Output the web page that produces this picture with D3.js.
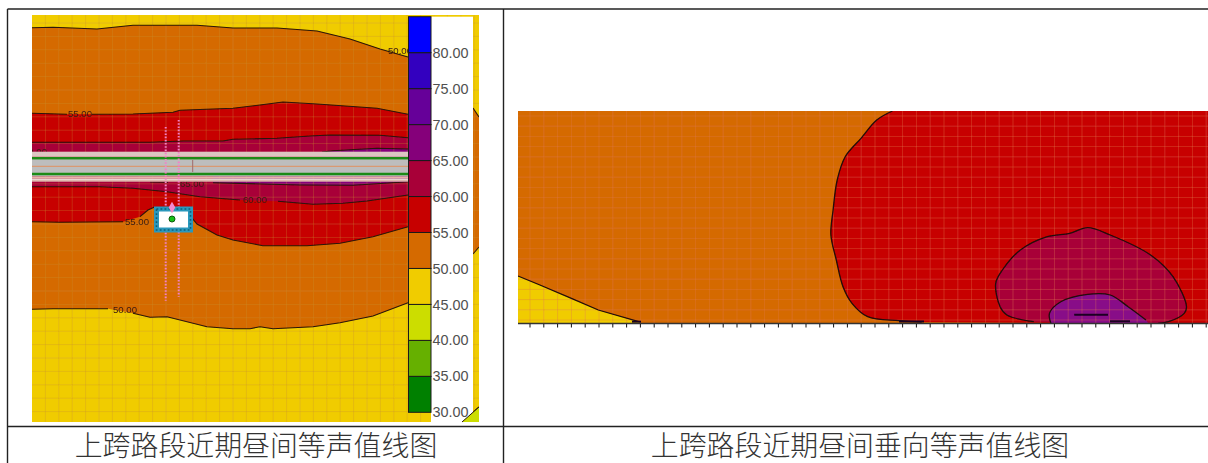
<!DOCTYPE html>
<html><head><meta charset="utf-8">
<style>html,body{margin:0;padding:0;background:#fff;overflow:hidden}svg{display:block}</style>
<script src="https://cdn.jsdelivr.net/npm/d3@7/dist/d3.min.js"></script>
</head><body><svg id="c" width="1208" height="463"></svg>
<script>
// ---- data ----
const levelTicks = [30,35,40,45,50,55,60,65,70,75,80];
const levelEdges = [30,35,40,45,50,55,60,65,70,75,80,85];
const levelColors = ["#008000","#66b000","#ccdd00","#f0cc00","#d56a00","#c70000","#a80038","#85007a","#660099","#3300bf","#0000ff"];
const captions = ["上跨路段近期昼间等声值线图","上跨路段近期昼间垂向等声值线图"];

// plan-view contours (map units)
const top50 = [[0,12.7],[21,12.3],[65,14],[101,10.3],[165,10.3],[201,13],[245,13],[285,16],[318,24],[348,34],[376,42]];
const up55a = [[0,98.3],[35,99.3]];
const up55b = [[60,99.2],[101,99],[141,97.3],[148,95.3],[201,93.3],[228,90],[251,87],[285,89],[345,93.3],[376,99.3]];
const up60 = [[0,127.3],[118,127.3],[151,126],[191,126],[201,124.3],[245,123.3],[278,121],[298,120],[348,120.3],[376,122.7]];
const up65 = [[290,137],[301,135.7],[345,133.3],[376,134]];
const lo65a = [[118,167],[136,167.2]];
const lo65b = [[181,167.7],[268,170],[321,170.3],[376,166.7]];
const lo60a = [[0,171.7],[68,171.7],[101,173.3],[135,176.7],[168,181.7],[208,185]];
const lo60b = [[246,186.3],[281,189.3],[311,188.3],[335,186],[376,180]];
const lo55a = [[0,206.7],[28,207.3],[91,206.7]];
const lo55b = [[108,201.7],[116,195],[122,192.3],[159,201.7],[165,209],[185,220],[201,225],[231,230.7],[275,230.7],[308,228.3],[341,221.7],[376,211.7]];
const lo50a = [[0,294.3],[21,293.7],[76,293.7]];
const lo50b = [[101,298.3],[118,302.3],[135,301.7],[175,311.7],[201,313.7],[218,313.7],[228,311.7],[241,313.7],[281,311.7],[308,307.7],[341,301],[376,287.7]];
const stripOrange = [[441,93],[447,102],[447,232],[441,239]];
const cornerLime = [[430,407],[447,392],[447,407]];
const mapLabels = [["55.00",36,102],["60.00",-9,140],["65.00",148,172],["60.00",211,188],["55.00",93,210],["50.00",81,298],["50.00",356,39]];
const roadBands = [[136.7,141.7,"#dcc6c2"],[141.7,143,"#e6b4a6"],[143,144.5,"#e8d6d0"],[161.5,163.5,"#e6b4a6"],[163.5,165,"#e8d6d0"],[165,166.7,"#dfb8ae"]];
const roadGreens = [143.3,159];
const roadCentre = 151.3;
const traceA = [[133.7,112],[133.7,285.7]];
const traceB = [[146.7,105],[146.7,281.7]];

// vertical-section contours (section units)
const secYellow = [[0,165],[21.9,174],[53.4,187.3],[80.3,199],[120.7,210.7],[122,213],[0,213]];
const secRed = [[374.4,0],[358.7,9],[343,27.3],[327.2,45.7],[319.2,69],[315.1,99],[312.9,124],[318.3,149],[325,175.7],[334,192.3],[349.7,205.7],[381,209.7],[403.6,211]];
const secCrimson = [[515.8,210.7],[488.9,204],[482.1,195.7],[477.7,172.3],[484.4,159],[502.4,139],[529.3,125.7],[551.7,122.3],[569.7,116.7],[592.2,124],[632.6,144],[655,165.7],[668.5,195.7],[666.2,202.3],[650.5,210.7],[640,212.5]];
const secPurple = [[532.9,212.5],[531.5,202.3],[542.8,190.7],[569.7,183.3],[592.2,184],[610.1,195.7],[628,209],[630.3,212.5]];
const secDashes = [[[556.2,203.7],[590,203.7]],[[592,210.3],[612,210.3]],[[381,210.5],[406,210.5]],[[114,210.7],[123,210.7]]];

// ---- scales ----
const svg = d3.select("#c");
const mx = d3.scaleLinear([0,447],[32,479]);
const my = d3.scaleLinear([0,407],[15,422]);
const sx = d3.scaleLinear([0,690],[518,1208]);
const sy = d3.scaleLinear([0,213],[111,324]);
const ly = d3.scaleLinear([30,85],[412.3,16.7]);
const col = d3.scaleThreshold().domain(levelEdges.slice(1,-1)).range(levelColors);
const mLine = d3.line(d=>mx(d[0]),d=>my(d[1]));
const sLine = d3.line(d=>sx(d[0]),d=>sy(d[1]));
const sCurve = d3.line(d=>sx(d[0]),d=>sy(d[1])).curve(d3.curveCatmullRom);
const ink = "#2a1408";
const defs = svg.append("defs");
defs.append("filter").attr("id","soft").append("feGaussianBlur").attr("stdDeviation",0.45);
defs.append("clipPath").attr("id","mapClip").append("rect").attr("x",32).attr("y",15).attr("width",447).attr("height",407);
defs.append("clipPath").attr("id","secClip").append("rect").attr("x",518).attr("y",111).attr("width",690).attr("height",213);

// ---- plan view ----
const m = svg.append("g").attr("clip-path","url(#mapClip)").append("g").attr("filter","url(#soft)");
m.append("rect").attr("x",mx(0)).attr("y",my(0)).attr("width",mx(447)-mx(0)).attr("height",my(407)-my(0)).attr("fill",col(47));
const E = 376, rev = a => a.slice().reverse();
const fillM = (pts,v)=>m.append("path").attr("d",mLine(pts)+"Z").attr("fill",col(v));
fillM([...top50,...rev([...lo50a,...lo50b])],52);
fillM([...up55a,...up55b,...rev([...lo55a,...lo55b])],57);
fillM([...up60,...rev([...lo60a,...lo60b])],62);
fillM([...up65,[E,145],[290,145]],67);
fillM([...lo65b,[E,150],[181,150]],67);
fillM(stripOrange,52);
fillM(cornerLime,42);
// faint survey grid
const gridX = d3.range(13.4,447,13.4), gridY = d3.range(8,407,13.4);
m.append("g").selectAll("line").data(gridX).join("line").attr("x1",mx).attr("x2",mx).attr("y1",my(0)).attr("y2",my(407)).attr("stroke","#c89030").attr("opacity",.3);
m.append("g").selectAll("line").data(gridY).join("line").attr("y1",my).attr("y2",my).attr("x1",mx(0)).attr("x2",mx(447)).attr("stroke","#c89030").attr("opacity",.3);
// contours
m.append("g").selectAll("path").data([top50,up55a,up55b,up60,up65,lo65a,lo65b,lo60a,lo60b,lo55a,lo55b,lo50a,lo50b,stripOrange.slice(0,2),stripOrange.slice(2),cornerLime.slice(0,2)])
 .join("path").attr("d",mLine).attr("fill","none").attr("stroke",ink).attr("stroke-width",1.1);
m.append("g").selectAll("text").data(mapLabels).join("text")
 .attr("x",d=>mx(d[1])).attr("y",d=>my(d[2])).text(d=>d[0])
 .attr("font-family","Liberation Sans").attr("font-size",9.6).attr("fill","#3a1a10");
// road
m.append("rect").attr("x",mx(0)).attr("width",mx(E)-mx(0)).attr("y",my(141.7)).attr("height",my(161.5)-my(141.7)).attr("fill","#bdbdbd");
m.append("g").selectAll("rect").data(roadBands).join("rect").attr("x",mx(0)).attr("width",mx(E)-mx(0))
 .attr("y",d=>my(d[0])).attr("height",d=>my(d[1])-my(d[0])).attr("fill",d=>d[2]);
m.append("g").selectAll("line").data(roadGreens).join("line").attr("x1",mx(0)).attr("x2",mx(E)).attr("y1",my).attr("y2",my).attr("stroke","#1f8a18").attr("stroke-width",2.6);
m.append("line").attr("x1",mx(0)).attr("x2",mx(E)).attr("y1",my(roadCentre)).attr("y2",my(roadCentre)).attr("stroke","#e09060").attr("stroke-width",1);
m.append("line").attr("x1",mx(160.7)).attr("x2",mx(160.7)).attr("y1",my(145)).attr("y2",my(157)).attr("stroke","#a06a6a").attr("stroke-width",1);
// receiver traces
m.append("g").selectAll("path").data([traceA,traceB]).join("path").attr("d",mLine).attr("fill","none")
 .attr("stroke","#f47fc8").attr("stroke-width",2).attr("stroke-dasharray","1.6 1.6");
// building
m.append("rect").attr("x",mx(124.5)).attr("y",my(194)).attr("width",34).attr("height",21).attr("fill","#fff").attr("stroke","#2a98bc").attr("stroke-width",5);
m.append("rect").attr("x",mx(124.5)).attr("y",my(194)).attr("width",34).attr("height",21).attr("fill","none").attr("stroke","#0c5f78").attr("stroke-width",1.6).attr("stroke-dasharray","1.8 2.2");
m.append("path").attr("d",d3.symbol(d3.symbolDiamond,38)()).attr("transform",`translate(${mx(140)},${my(192.5)})`).attr("fill","#f48ad0");
m.append("circle").attr("cx",mx(140)).attr("cy",my(204)).attr("r",3).attr("fill","#18c018").attr("stroke","#0a5a0a");
// key panel
const panel = svg.append("g");
panel.append("rect").attr("x",431).attr("y",ly(85)).attr("width",42).attr("height",422-ly(85)).attr("fill","#fff");
svg.append("path").attr("d",mLine(cornerLime)+"Z").attr("fill",col(42));
svg.append("path").attr("d",mLine(cornerLime.slice(0,2))).attr("stroke",ink).attr("fill","none");
const cells = d3.range(levelColors.length);
panel.append("g").selectAll("rect").data(cells).join("rect")
 .attr("x",408.5).attr("width",22.5)
 .attr("y",i=>ly(levelEdges[i+1])).attr("height",i=>ly(levelEdges[i])-ly(levelEdges[i+1]))
 .attr("fill",i=>levelColors[i]).attr("stroke","#1a1a1a").attr("stroke-width",1);
const keyAxis = d3.axisRight(ly).tickValues(levelTicks).tickSize(0).tickPadding(1.5).tickFormat(d3.format(".2f"));
const ka = svg.append("g").attr("transform","translate(431,0)").call(keyAxis);
ka.select(".domain").remove();
ka.selectAll("text").attr("font-family","Liberation Sans").attr("font-size",14.4).attr("fill","#505050");

// ---- vertical section ----
const s = svg.append("g").attr("clip-path","url(#secClip)").append("g").attr("filter","url(#soft)");
s.append("rect").attr("x",sx(0)).attr("y",sy(0)).attr("width",690).attr("height",213).attr("fill",col(52));
s.append("path").attr("d",sLine(secYellow)+"Z").attr("fill",col(47));
s.append("path").attr("d",sCurve(secRed)+"L"+sx(690)+","+sy(213)+"L"+sx(690)+","+sy(0)+"Z").attr("fill",col(57));
s.append("path").attr("d",sCurve(secCrimson)+"Z").attr("fill",col(62));
s.append("path").attr("d",sCurve(secPurple)+"Z").attr("fill","#880a88");
const sGX = d3.range(12,690,13.8), sGY = d3.range(5,213,10.2);
s.append("g").selectAll("line").data(sGX).join("line").attr("x1",sx).attr("x2",sx).attr("y1",sy(0)).attr("y2",sy(213)).attr("stroke","#e07850").attr("opacity",.35);
s.append("g").selectAll("line").data(sGY).join("line").attr("y1",sy).attr("y2",sy).attr("x1",sx(0)).attr("x2",sx(690)).attr("stroke","#e07850").attr("opacity",.35);
s.append("path").attr("d",sLine(secYellow.slice(0,5))).attr("fill","none").attr("stroke","#200a08").attr("stroke-width",1.3);
s.append("g").selectAll("path").data([secRed,secCrimson,secPurple.slice(0,-1)]).join("path")
 .attr("d",sCurve).attr("fill","none").attr("stroke","#200a08").attr("stroke-width",1.3);
s.append("g").selectAll("path").data(secDashes).join("path").attr("d",sLine).attr("stroke","#1a0620").attr("stroke-width",2).attr("fill","none");
// ground line and ticks
svg.append("line").attr("x1",sx(0)).attr("x2",sx(690)).attr("y1",sy(212.5)).attr("y2",sy(212.5)).attr("stroke","#333").attr("stroke-width",1.6);
svg.append("g").selectAll("line").data(sGX).join("line").attr("x1",sx).attr("x2",sx).attr("y1",sy(213)).attr("y2",sy(213)+3.5).attr("stroke","#111");

// ---- table ----
const rules = [[7.5,9,1208,9],[7.5,426.5,1208,426.5],[7.5,9,7.5,463],[503.5,9,503.5,463]];
svg.append("g").selectAll("line").data(rules).join("line")
 .attr("x1",d=>d[0]).attr("y1",d=>d[1]).attr("x2",d=>d[2]).attr("y2",d=>d[3]).attr("stroke","#222").attr("stroke-width",1.4);
const capX = d3.scalePoint().domain(captions).range([256,860]);
svg.append("g").selectAll("text").data(captions).join("text").text(d=>d)
 .attr("x",d=>capX(d)).attr("y",456).attr("text-anchor","middle")
 .attr("font-family","'Noto Sans CJK SC'").attr("font-size",27.9).attr("font-weight",300).attr("fill","#333");
</script></body></html>
